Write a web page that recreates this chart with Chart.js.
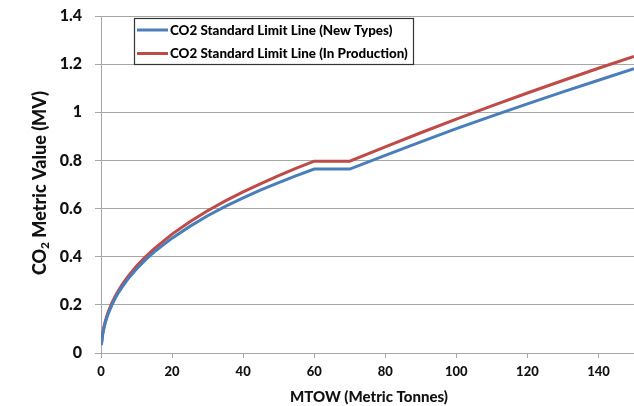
<!DOCTYPE html>
<html>
<head>
<meta charset="utf-8">
<script src="https://cdn.jsdelivr.net/npm/chart.js@4.4.0/dist/chart.umd.min.js"></script>
<style>
  html, body { margin: 0; padding: 0; background: #fff; }
  #wrap { width: 634px; height: 406px; }
</style>
</head>
<body>
<div id="wrap"><canvas id="chart" width="634" height="406"></canvas></div>
<script>
// MTOW in tonnes, metric value
const mtow = [0.1, 0.5, 1, 1.5, 2, 3, 4, 5, 6, 7.5, 10, 12.5, 15, 20, 25, 30, 35, 40, 45, 50, 55, 60, 70, 80, 90, 100, 110, 120, 130, 140, 150];
const newTypes = [0.033, 0.079, 0.114, 0.140, 0.162, 0.197, 0.227, 0.253, 0.275, 0.306, 0.349, 0.387, 0.420, 0.477, 0.526, 0.570, 0.609, 0.644, 0.678, 0.708, 0.737, 0.764, 0.764, 0.821, 0.877, 0.932, 0.984, 1.035, 1.085, 1.133, 1.181];
const inProduction = [0.037, 0.085, 0.121, 0.147, 0.169, 0.206, 0.236, 0.262, 0.285, 0.316, 0.361, 0.400, 0.434, 0.494, 0.545, 0.591, 0.632, 0.669, 0.704, 0.737, 0.768, 0.797, 0.797, 0.856, 0.915, 0.972, 1.027, 1.080, 1.132, 1.183, 1.232];
const seriesLabels = ['CO2 Standard Limit Line (New Types)', 'CO2 Standard Limit Line (In Production)'];
const xTicks = [0, 20, 40, 60, 80, 100, 120, 140];
const yTicks = [0, 0.2, 0.4, 0.6, 0.8, 1, 1.2, 1.4];

const FONT = 'Lato, "Open Sans", sans-serif';
const WEIGHT = '900';
const GRID = '#a6a6a6';
const TEXT = '#111';

function toPoints(ys) {
    return mtow.map((x, i) => ({ x: x, y: ys[i] }));
}

// legend box and axis titles (subscript 2 in the y title)
const decorations = {
    id: 'decorations',
    afterDraw(chart) {
        const ctx = chart.ctx;
        ctx.save();

        // legend
        ctx.fillStyle = '#fff';
        ctx.fillRect(134, 18, 279, 46);
        ctx.strokeStyle = '#333';
        ctx.lineWidth = 1.2;
        ctx.strokeRect(134.5, 18.5, 279, 46);
        ctx.font = WEIGHT + ' 13.4px ' + FONT;
        ctx.textBaseline = 'middle';
        chart.data.datasets.forEach((ds, i) => {
            const y = 30 + i * 23.5;
            ctx.strokeStyle = ds.borderColor;
            ctx.lineWidth = 3;
            ctx.beginPath();
            ctx.moveTo(137, y);
            ctx.lineTo(168, y);
            ctx.stroke();
            ctx.fillStyle = '#000';
            ctx.fillText(ds.label, 170, y + 0.5);
        });

        // x title
        ctx.fillStyle = TEXT;
        ctx.font = WEIGHT + ' 15px ' + FONT;
        ctx.textAlign = 'center';
        ctx.fillText('MTOW (Metric Tonnes)', 369, 397);

        // y title
        ctx.translate(40, 183);
        ctx.rotate(-Math.PI / 2);
        ctx.textAlign = 'left';
        const big = WEIGHT + ' 18px ' + FONT;
        const small = WEIGHT + ' 12px ' + FONT;
        ctx.font = big;
        const wCO = ctx.measureText('CO').width;
        const wRest = ctx.measureText(' Metric Value (MV)').width;
        ctx.font = small;
        const wSub = ctx.measureText('2').width;
        let x = -(wCO + wSub + wRest) / 2;
        ctx.font = big;
        ctx.fillText('CO', x, 0);
        x += wCO;
        ctx.font = small;
        ctx.fillText('2', x, 5);
        x += wSub;
        ctx.font = big;
        ctx.fillText(' Metric Value (MV)', x, 0);

        ctx.restore();
    }
};

new Chart(document.getElementById('chart').getContext('2d'), {
    type: 'scatter',
    data: {
        datasets: [
            {
                label: seriesLabels[0],
                data: toPoints(newTypes),
                borderColor: '#4a7ebb',
                backgroundColor: '#4a7ebb',
                borderWidth: 3,
                showLine: true,
                pointRadius: 0,
                tension: 0
            },
            {
                label: seriesLabels[1],
                data: toPoints(inProduction),
                borderColor: '#be4b48',
                backgroundColor: '#be4b48',
                borderWidth: 3,
                showLine: true,
                pointRadius: 0,
                tension: 0
            }
        ]
    },
    options: {
        responsive: false,
        animation: false,
        layout: { padding: { top: 16, left: 0, right: 0, bottom: 0 } },
        plugins: {
            legend: { display: false },
            tooltip: { enabled: false }
        },
        scales: {
            x: {
                type: 'linear',
                min: 0,
                max: 150,
                afterBuildTicks: s => { s.ticks = xTicks.map(v => ({ value: v })); },
                afterFit: s => { s.height = 53; s.paddingLeft = 0; s.paddingRight = 0; },
                grid: { drawOnChartArea: false, drawTicks: true, tickLength: 5, color: GRID },
                border: { color: GRID, width: 1 },
                ticks: {
                    font: { family: FONT, weight: WEIGHT, size: 13 },
                    color: TEXT,
                    padding: 6,
                    maxRotation: 0,
                    autoSkip: false
                }
            },
            y: {
                min: 0,
                max: 1.4,
                afterBuildTicks: s => { s.ticks = yTicks.map(v => ({ value: v })); },
                afterFit: s => { s.width = 101; s.paddingTop = 0; s.paddingBottom = 0; },
                grid: { color: GRID, tickLength: 6 },
                border: { color: GRID, width: 1 },
                ticks: {
                    font: { family: FONT, weight: WEIGHT, size: 16 },
                    color: TEXT,
                    padding: 13,
                    callback: v => String(v)
                }
            }
        }
    },
    plugins: [decorations]
});
</script>
</body>
</html>
